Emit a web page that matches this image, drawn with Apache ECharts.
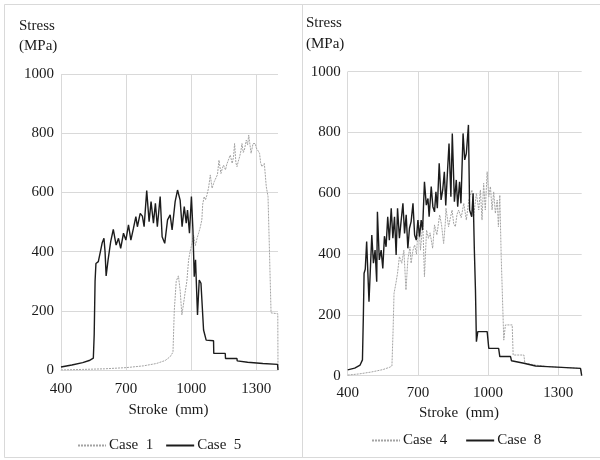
<!DOCTYPE html>
<html>
<head>
<meta charset="utf-8">
<script src="https://cdn.jsdelivr.net/npm/echarts@6/dist/echarts.min.js"></script>
<style>
  html, body { margin: 0; padding: 0; background: #fff; }
  #chart { width: 600px; height: 460px; }
</style>
</head>
<body>
<div id="chart"></div>
<script>
// Stroke (mm) vs stress (MPa) for four load cases, two panels side by side.
var seriesNames = ['Case  1', 'Case  5', 'Case  4', 'Case  8'];
var xTicks = [400, 700, 1000, 1300];
var yTicks = [0, 200, 400, 600, 800, 1000];

var case1 = [[400,0],[500,2],[600,4],[700,8],[780,14],[840,22],[880,32],[903,45],[916,60],[922,200],[931,300],[941,318],[949,270],[957,186],[964,220],[972,262],[980,300],[988,372],[995,400],[1004,430],[1011,456],[1019,420],[1027,445],[1034,462],[1041,480],[1049,507],[1053,560],[1060,586],[1066,575],[1072,590],[1080,615],[1088,659],[1096,614],[1106,636],[1115,636],[1121,660],[1128,709],[1137,664],[1143,680],[1149,692],[1158,676],[1164,695],[1171,698],[1180,726],[1189,698],[1195,720],[1200,765],[1206,700],[1211,687],[1217,705],[1223,720],[1229,740],[1234,765],[1240,735],[1245,743],[1254,777],[1260,760],[1265,794],[1271,760],[1276,732],[1285,765],[1295,765],[1300,750],[1306,743],[1315,732],[1320,700],[1326,687],[1337,698],[1346,619],[1354,586],[1360,420],[1368,193],[1399,190],[1400,0]];

var case5 = [[400,10],[450,17],[500,25],[530,32],[549,40],[553,120],[557,300],[561,360],[572,366],[583,405],[590,430],[598,445],[603,400],[608,318],[617,372],[629,434],[641,475],[654,422],[665,445],[675,411],[688,462],[699,439],[711,490],[722,439],[734,479],[745,518],[752,484],[765,529],[775,520],[783,484],[795,606],[806,501],[815,569],[826,496],[835,563],[844,484],[857,586],[866,450],[878,428],[891,507],[903,524],[912,473],[926,569],[937,608],[949,574],[958,484],[968,552],[977,496],[983,540],[992,462],[1001,586],[1008,473],[1014,315],[1020,372],[1029,186],[1037,304],[1045,293],[1051,298],[1057,135],[1069,101],[1103,99],[1104,56],[1157,56],[1158,39],[1211,39],[1212,31],[1260,26],[1330,22],[1398,19],[1400,0]];

var case4 = [[400,2],[450,6],[500,12],[550,20],[580,28],[589,32],[594,150],[598,271],[606,304],[613,337],[621,392],[631,370],[640,413],[649,282],[657,381],[666,424],[671,370],[679,413],[686,430],[694,400],[703,512],[711,413],[721,501],[728,326],[737,479],[745,452],[752,470],[763,419],[771,496],[781,463],[793,529],[801,496],[810,435],[817,501],[820,551],[831,490],[839,520],[846,545],[853,500],[860,490],[867,530],[874,545],[885,520],[896,567],[907,512],[918,580],[931,611],[938,523],[950,600],[960,545],[967,611],[974,512],[981,633],[988,545],[996,671],[1003,589],[1010,622],[1017,545],[1024,605],[1031,534],[1039,578],[1044,490],[1050,594],[1056,392],[1067,117],[1074,167],[1103,167],[1107,68],[1153,68],[1157,41],[1203,35],[1253,30],[1395,24],[1400,0]];

var case8 = [[400,19],[430,25],[453,35],[463,52],[467,200],[470,337],[475,350],[481,441],[491,243],[503,463],[510,370],[517,413],[524,309],[527,539],[535,381],[543,413],[550,353],[557,459],[564,424],[571,523],[578,446],[586,551],[593,452],[600,523],[607,397],[613,551],[621,452],[628,507],[636,567],[643,468],[650,529],[657,419],[664,485],[671,507],[679,567],[686,463],[693,446],[700,512],[707,457],[714,512],[720,479],[728,638],[736,561],[743,583],[748,523],[757,622],[764,556],[771,539],[777,605],[783,551],[791,699],[799,578],[806,611],[813,671],[819,560],[826,665],[833,764],[841,589],[847,797],[856,572],[864,644],[870,556],[878,638],[884,567],[893,797],[900,710],[907,731],[916,825],[921,545],[930,523],[936,600],[941,420],[946,282],[950,112],[956,145],[996,145],[1003,90],[1045,90],[1050,63],[1096,63],[1100,49],[1153,41],[1203,32],[1253,30],[1395,24],[1400,0]];

var FONT = 'Liberation Serif';
var TEXT = '#1a1a1a';
var GRIDC = '#d9d9d9';
var DOT = '#a3a3a3';
var SOLID = '#1c1c1c';

function plain(v) { return String(v); }

function xAxisFor(gridIndex, margin) {
  return {
    type: 'value', gridIndex: gridIndex,
    min: xTicks[0], max: 1400, interval: xTicks[1] - xTicks[0],
    axisLine: { show: true, lineStyle: { color: GRIDC, width: 1 } },
    axisTick: { show: false },
    axisLabel: { fontFamily: FONT, fontSize: 15, color: TEXT, margin: margin, showMaxLabel: false, formatter: plain },
    splitLine: { show: true, showMaxLine: false, lineStyle: { color: GRIDC, width: 1 } }
  };
}
function yAxisFor(gridIndex) {
  return {
    type: 'value', gridIndex: gridIndex,
    min: yTicks[0], max: yTicks[yTicks.length - 1], interval: yTicks[1] - yTicks[0],
    axisLine: { show: false },
    axisTick: { show: false },
    axisLabel: { fontFamily: FONT, fontSize: 15, color: TEXT, margin: 7, formatter: plain },
    splitLine: { show: true, lineStyle: { color: GRIDC, width: 1 } }
  };
}
function lineSeries(name, data, idx, dotted) {
  return {
    name: name, type: 'line', data: data,
    xAxisIndex: idx, yAxisIndex: idx,
    symbol: 'none', showSymbol: false, smooth: false,
    lineStyle: dotted
      ? { color: DOT, width: 1, type: [2, 1] }
      : { color: SOLID, width: 1.4, type: 'solid' },
    itemStyle: { color: dotted ? DOT : SOLID },
    emphasis: { disabled: true }
  };
}
function legendFor(left, top, gap, names) {
  return {
    left: left, top: top, padding: 0, itemWidth: 28, itemHeight: 14, itemGap: gap,
    data: names,
    itemStyle: { opacity: 0 },
    textStyle: { fontFamily: FONT, fontSize: 15, color: TEXT, padding: [0, 0, 0, -2] },
    selectedMode: false
  };
}
function label(text, x, y, align) {
  return {
    type: 'text', x: x, y: y,
    style: { text: text, font: '15px "' + FONT + '"', fill: TEXT, align: align || 'left', verticalAlign: 'middle' }
  };
}

var chart = echarts.init(document.getElementById('chart'), null, { renderer: 'canvas' });
chart.setOption({
  animation: false,
  backgroundColor: '#fff',
  grid: [
    { left: 61, right: 322, top: 74, bottom: 90 },
    { left: 347.7, right: 18.3, top: 71.7, bottom: 84.3 }
  ],
  xAxis: [xAxisFor(0, 12), xAxisFor(1, 10)],
  yAxis: [yAxisFor(0), yAxisFor(1)],
  legend: [
    legendFor(77, 438, 12, [seriesNames[0], seriesNames[1]]),
    legendFor(371, 433, 18, [seriesNames[2], seriesNames[3]])
  ],
  series: [
    lineSeries(seriesNames[0], case1, 0, true),
    lineSeries(seriesNames[1], case5, 0, false),
    lineSeries(seriesNames[2], case4, 1, true),
    lineSeries(seriesNames[3], case8, 1, false)
  ],
  graphic: [
    { type: 'rect', shape: { x: 4.5, y: 4.5, width: 298, height: 453 }, style: { fill: 'none', stroke: GRIDC, lineWidth: 1 }, z: -1 },
    { type: 'rect', shape: { x: 302.5, y: 4.5, width: 310, height: 453 }, style: { fill: 'none', stroke: GRIDC, lineWidth: 1 }, z: -1 },
    label('Stress', 19, 26),
    label('(MPa)', 19, 46),
    label('Stress', 306, 23),
    label('(MPa)', 306, 44),
    label('Stroke  (mm)', 168.5, 410, 'center'),
    label('Stroke  (mm)', 459, 413, 'center')
  ]
});
</script>
</body>
</html>
